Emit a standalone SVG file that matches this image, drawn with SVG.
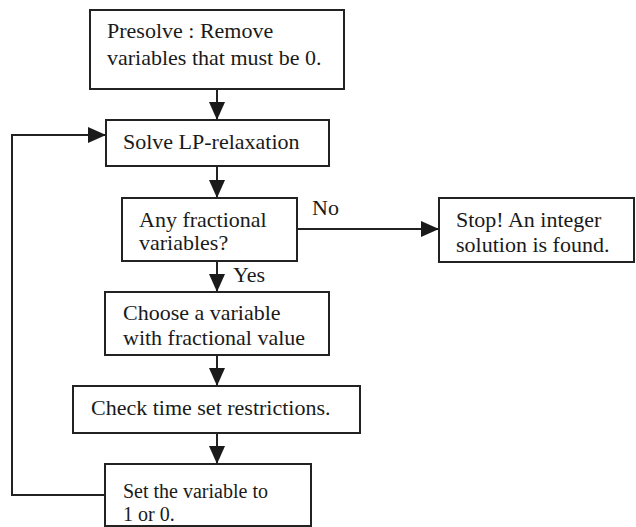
<svg xmlns="http://www.w3.org/2000/svg" width="636" height="527" viewBox="0 0 636 527">
<style>
.box{fill:#fff;stroke:#222;stroke-width:2}
.t{font-family:"Liberation Serif","Times New Roman",serif;font-size:22px;fill:#1a1a1a}
.s{font-size:20px}
.c{fill:none;stroke:#222;stroke-width:2}
</style>
<defs>
<marker id="ah" markerUnits="userSpaceOnUse" markerWidth="18" markerHeight="16" refX="18" refY="8" orient="auto">
<path d="M0,0 L18,8 L0,16 z" fill="#1a1a1a"/>
</marker>
</defs>
<rect width="636" height="527" fill="#fff"/>
<g id="connectors">
<path class="c" d="M217,89 V120" marker-end="url(#ah)"/>
<path class="c" d="M217,166 V198" marker-end="url(#ah)"/>
<path class="c" d="M297,229 H439" marker-end="url(#ah)"/>
<path class="c" d="M217,261 V292" marker-end="url(#ah)"/>
<path class="c" d="M217,355 V386" marker-end="url(#ah)"/>
<path class="c" d="M217,433 V464" marker-end="url(#ah)"/>
<path class="c" d="M105,495 H12 V135 H106" marker-end="url(#ah)"/>
<text class="t" x="312" y="215">No</text>
<text class="t" x="233" y="282">Yes</text>
</g>
<g id="presolve">
<rect class="box" x="90" y="10" width="254" height="79"/>
<text class="t" x="107" y="38">Presolve : Remove</text>
<text class="t" x="107" y="65">variables that must be 0.</text>
</g>
<g id="solve">
<rect class="box" x="106" y="120" width="223" height="46"/>
<text class="t" x="123" y="149">Solve LP-relaxation</text>
</g>
<g id="fractional">
<rect class="box" x="122" y="198" width="175" height="63"/>
<text class="t" x="139" y="227">Any fractional</text>
<text class="t" x="139" y="250">variables?</text>
</g>
<g id="stop">
<rect class="box" x="439" y="198" width="195" height="64"/>
<text class="t" x="456" y="227">Stop! An integer</text>
<text class="t" x="456" y="252">solution is found.</text>
</g>
<g id="choose">
<rect class="box" x="105" y="292" width="224" height="63"/>
<text class="t" x="123" y="320">Choose a variable</text>
<text class="t" x="123" y="345">with fractional value</text>
</g>
<g id="check">
<rect class="box" x="73" y="386" width="287" height="47"/>
<text class="t" x="91" y="415">Check time set restrictions.</text>
</g>
<g id="set">
<rect class="box" x="105" y="464" width="206" height="62"/>
<text class="t s" x="123" y="498">Set the variable to</text>
<text class="t s" x="123" y="521">1 or 0.</text>
</g>
</svg>
